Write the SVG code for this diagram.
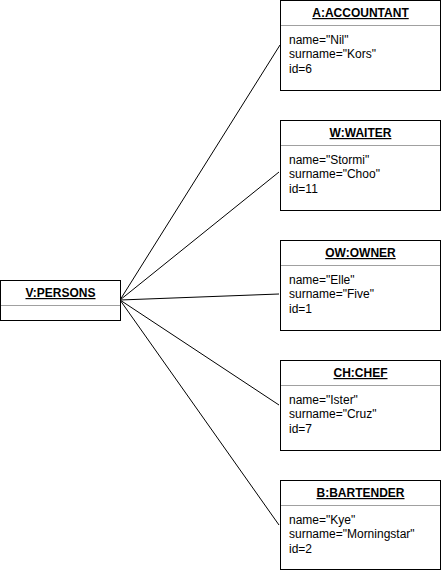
<svg xmlns="http://www.w3.org/2000/svg" width="441" height="571" viewBox="0 0 441 571">
<style>
.box{fill:#fff;stroke:#000;stroke-width:1}
.div{stroke:#a0a0a0;stroke-width:1}
.hd{font-family:"Liberation Sans",Arial,sans-serif;font-size:12px;font-weight:bold;text-anchor:middle;text-decoration:underline;fill:#000}
.at{font-family:"Liberation Sans",Arial,sans-serif;font-size:12px;fill:#000}
.edge{stroke:#000;stroke-width:1;fill:none}
</style>
<rect width="441" height="571" fill="#fff"/>
<g id="connectors">
<line class="edge" x1="120" y1="300" x2="280" y2="45"/>
<line class="edge" x1="120" y1="300" x2="279" y2="172"/>
<line class="edge" x1="120" y1="300" x2="279" y2="294"/>
<line class="edge" x1="120" y1="300" x2="279" y2="405"/>
<line class="edge" x1="120" y1="300" x2="279" y2="525"/>
</g>
<g id="persons">
<rect class="box" x="0.5" y="280.5" width="120" height="40"/>
<line class="div" x1="1" y1="305.5" x2="120" y2="305.5"/>
<text class="hd" x="60.5" y="297">V:PERSONS</text>
</g>
<g id="accountant">
<rect class="box" x="280.5" y="0.5" width="160" height="90"/>
<line class="div" x1="281" y1="25.5" x2="440" y2="25.5"/>
<text class="hd" x="360.5" y="17">A:ACCOUNTANT</text>
<text class="at" x="289" y="44">name="Nil"</text>
<text class="at" x="289" y="58.4">surname="Kors"</text>
<text class="at" x="289" y="72.8">id=6</text>
</g>
<g id="waiter">
<rect class="box" x="280.5" y="120.5" width="160" height="90"/>
<line class="div" x1="281" y1="145.5" x2="440" y2="145.5"/>
<text class="hd" x="360.5" y="137">W:WAITER</text>
<text class="at" x="289" y="164">name="Stormi"</text>
<text class="at" x="289" y="178.4">surname="Choo"</text>
<text class="at" x="289" y="192.8">id=11</text>
</g>
<g id="owner">
<rect class="box" x="280.5" y="240.5" width="160" height="90"/>
<line class="div" x1="281" y1="265.5" x2="440" y2="265.5"/>
<text class="hd" x="360.5" y="257">OW:OWNER</text>
<text class="at" x="289" y="284">name="Elle"</text>
<text class="at" x="289" y="298.4">surname="Five"</text>
<text class="at" x="289" y="312.8">id=1</text>
</g>
<g id="chef">
<rect class="box" x="280.5" y="360.5" width="160" height="90"/>
<line class="div" x1="281" y1="385.5" x2="440" y2="385.5"/>
<text class="hd" x="360.5" y="377">CH:CHEF</text>
<text class="at" x="289" y="404">name="Ister"</text>
<text class="at" x="289" y="418.4">surname="Cruz"</text>
<text class="at" x="289" y="432.8">id=7</text>
</g>
<g id="bartender">
<rect class="box" x="280.5" y="480.5" width="160" height="89"/>
<line class="div" x1="281" y1="505.5" x2="440" y2="505.5"/>
<text class="hd" x="360.5" y="497">B:BARTENDER</text>
<text class="at" x="289" y="524">name="Kye"</text>
<text class="at" x="289" y="538.4">surname="Morningstar"</text>
<text class="at" x="289" y="552.8">id=2</text>
</g>
</svg>
